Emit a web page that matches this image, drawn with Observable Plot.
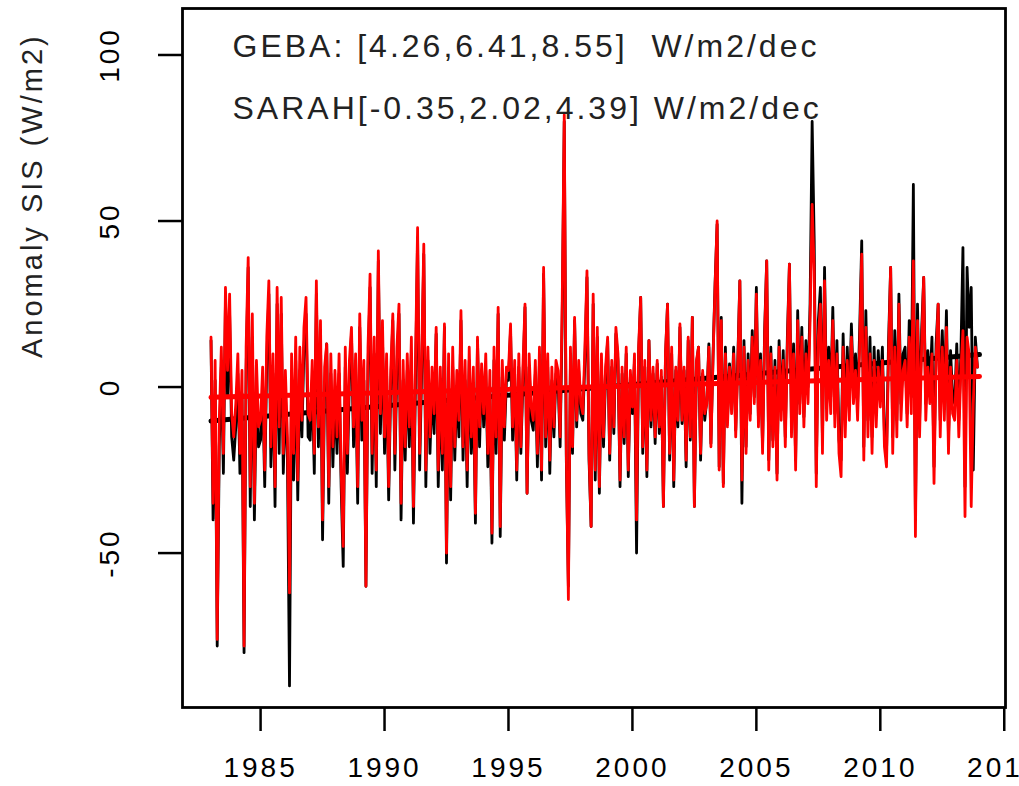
<!DOCTYPE html>
<html><head><meta charset="utf-8">
<script src="https://cdn.jsdelivr.net/npm/d3@7"></script>
<script src="https://cdn.jsdelivr.net/npm/@observablehq/plot@0.6"></script>
<style>
html,body{margin:0;padding:0;background:#fff;overflow:hidden;}
#chart svg{display:block;}
</style></head><body><div id="chart"></div>
<script>
// Monthly anomalies, January 1983 .. December 2013
const startYear = 1983;
const sarah = [
  15,-35,8,-76,-10,12,-20,30,5,28,-8,-15,      // 1983
  -5,10,-20,5,-78,12,39,-30,22,-35,8,-12,      // 1984
  -10,6,-25,15,32,-18,10,-30,30,-12,27,-20,    // 1985
  5,-15,-62,10,-20,15,-28,12,-10,18,27,-8,     // 1986
  -10,8,-20,32,-12,20,-40,6,13,-30,10,-18,     // 1987
  5,-15,10,-25,-48,12,-20,8,18,-12,10,-30,     // 1988
  22,-10,8,-60,12,34,-20,15,-25,41,-8,20,      // 1989
  -15,10,-30,5,22,-20,12,25,-35,8,-18,10,      // 1990
  -12,15,-36,8,48,-20,10,43,-25,12,-15,6,      // 1991
  -8,18,-25,6,-20,19,-50,10,-30,12,-18,5,      // 1992
  -10,23,-18,8,-25,12,-15,6,-38,15,-12,7,      // 1993
  -8,10,-20,5,-44,12,-15,24,-42,8,-12,6,       // 1994
  5,19,-12,8,-25,10,-18,6,25,-32,10,-6,        // 1995
  -10,8,-20,12,-25,36,-15,10,-22,6,-12,8,      // 1996
  5,-15,25,82,-20,-64,12,-18,21,-10,8,-5,      // 1997
  -8,12,35,-20,-42,28,-25,18,-30,10,-15,6,     // 1998
  15,-20,8,-12,18,10,-28,6,-15,12,-25,5,       // 1999
  -6,10,-40,12,27,-18,8,-25,14,-10,6,-15,      // 2000
  8,-12,5,-36,10,25,-20,12,-28,6,-10,19,       // 2001
  -10,6,-22,15,-15,21,-36,8,12,-20,5,-8,       // 2002
  -5,12,-18,8,30,50,-25,20,-30,10,-12,6,       // 2003
  -8,10,-15,6,32,-28,12,-20,8,-10,15,-5,       // 2004
  28,-12,8,-20,15,38,-25,10,-18,6,-28,12,      // 2005
  -10,8,-18,12,37,-15,10,-25,20,-8,15,-12,     // 2006
  10,-5,20,55,35,-30,15,25,-20,32,-10,8,       // 2007
  -8,20,-12,10,-20,-27,12,-15,8,-10,15,-5,     // 2008
  5,-10,12,40,-22,18,-15,10,-20,8,-12,6,       // 2009
  -6,8,-18,-24,10,36,-20,12,-15,25,-10,5,      // 2010
  8,-12,15,-8,38,-45,20,-15,12,33,-10,6,       // 2011
  -5,10,-29,8,25,-15,12,-10,18,-20,6,-8,       // 2012
  -10,8,-15,5,17,-39,15,10,-36,-5,12,6         // 2013
];
const geba = [
  14,-40,2,-78,-18,6,-26,26,-3,22,-15,-22,     // 1983
  -12,4,-26,-2,-80,5,36,-36,15,-40,0,-18,      // 1984
  -16,0,-30,8,28,-24,4,-36,25,-20,22,-26,      // 1985
  -2,-22,-90,4,-28,8,-34,5,-15,12,22,-15,      // 1986
  -16,2,-26,28,-18,14,-46,0,13,-35,4,-24,      // 1987
  -2,-20,4,-30,-54,6,-26,2,16,-18,4,-35,       // 1988
  18,-16,2,-60,6,30,-26,10,-30,38,-14,15,      // 1989
  -20,4,-34,0,20,-25,6,22,-40,2,-22,5,         // 1990
  -18,10,-41,2,45,-25,5,40,-30,8,-20,0,        // 1991
  -14,16,-30,0,-25,18,-53,4,-34,6,-22,0,       // 1992
  -15,20,-22,2,-30,8,-20,0,-41,14,-18,5,       // 1993
  -12,5,-24,0,-47,8,-20,22,-45,3,-16,2,        // 1994
  2,17,-16,4,-28,6,-20,2,24,-32,6,-10,         // 1995
  -13,4,-24,8,-28,34,-18,6,-26,2,-15,4,        // 1996
  2,-18,20,80,-22,-60,8,-20,20,-12,5,-8,       // 1997
  -10,8,33,-22,-42,25,-28,15,-32,6,-18,3,      // 1998
  14,-22,6,-14,16,8,-30,4,-17,10,-27,3,        // 1999
  -8,8,-50,10,27,-20,6,-27,14,-12,4,-17,       // 2000
  7,-14,3,-36,9,25,-22,10,-30,5,-12,18,        // 2001
  -11,5,-24,14,-16,21,-36,7,12,-22,4,-10,      // 2002
  -4,13,-17,9,31,49,-24,21,-29,12,-10,7,       // 2003
  -6,12,-13,8,32,-35,14,-18,10,-8,17,-3,       // 2004
  30,-10,10,-18,17,38,-22,12,-16,8,-26,14,     // 2005
  -7,11,-15,15,37,-12,13,-22,23,-5,18,-9,      // 2006
  14,0,25,80,44,-26,20,30,-16,36,-5,12,        // 2007
  -3,24,-8,14,-16,-22,16,-10,12,-5,19,0,       // 2008
  10,-5,17,44,-18,23,-10,15,-15,12,-8,11,      // 2009
  -2,12,-14,-20,14,36,-15,17,-10,28,-5,10,     // 2010
  12,-8,20,-3,61,-40,25,-10,17,33,-5,11,       // 2011
  0,15,-24,13,25,-10,17,-5,23,-15,11,-3,       // 2012
  -5,13,-10,10,42,-30,36,18,30,-25,15,6        // 2013
];
// Linear trends (W/m2) at start and end of the record
const trendYears = [1983, 2014];
const gebaTrend = [-10.2, 9.8];
const sarahTrend = [-3.1, 3.2];
const xTicks = [1985, 1990, 1995, 2000, 2005, 2010, 2015];
const yTicks = [-50, 0, 50, 100];
const gebaNote = "GEBA: [4.26,6.41,8.55]  W/m2/dec";
const sarahNote = "SARAH[-0.35,2.02,4.39] W/m2/dec";
const yLabel = "Anomaly SIS (W/m2)";

const toRows = arr => arr.map((v, i) => ({t: startYear + i / 12, v}));
const trendRows = arr => trendYears.map((t, i) => ({t, v: arr[i]}));

const font = "'Liberation Sans', Arial, sans-serif";
const chart = Plot.plot({
  width: 1019,
  height: 786,
  marginLeft: 182,
  marginRight: 14,
  marginTop: 8,
  marginBottom: 79,
  style: {fontFamily: font, fontSize: "28px", color: "#000", background: "#fff", letterSpacing: "3px"},
  x: {domain: [1981.85, 2015.05]},
  y: {domain: [-96.5, 114]},
  marks: [
    Plot.line(toRows(geba), {x: "t", y: "v", stroke: "#000", strokeWidth: 2.8}),
    Plot.line(trendRows(gebaTrend), {x: "t", y: "v", stroke: "#000", strokeWidth: 5}),
    Plot.line(toRows(sarah), {x: "t", y: "v", stroke: "#f00", strokeWidth: 2.8}),
    Plot.line(trendRows(sarahTrend), {x: "t", y: "v", stroke: "#f00", strokeWidth: 5}),
    Plot.frame({stroke: "#000", strokeWidth: 2.8}),
    Plot.axisX({ticks: xTicks, tickFormat: d => String(d), tickSize: 24, tickPadding: 26, strokeWidth: 2.5, fontSize: 28, label: null}),
    Plot.axisY({ticks: yTicks, tickFormat: d => String(d), tickSize: 24, tickPadding: 40, tickRotate: -90, strokeWidth: 2.5, fontSize: 28, label: null}),
    Plot.text([yLabel], {frameAnchor: "left", dx: -150, rotate: -90, fontSize: 29, fill: "#222"}),
    Plot.text([gebaNote], {frameAnchor: "top-left", dx: 50, dy: 26, textAnchor: "start", fontSize: 32, fill: "#222"}),
    Plot.text([sarahNote], {frameAnchor: "top-left", dx: 50, dy: 88, textAnchor: "start", fontSize: 32, fill: "#222"})
  ]
});
document.getElementById("chart").appendChild(chart);
</script></body></html>
